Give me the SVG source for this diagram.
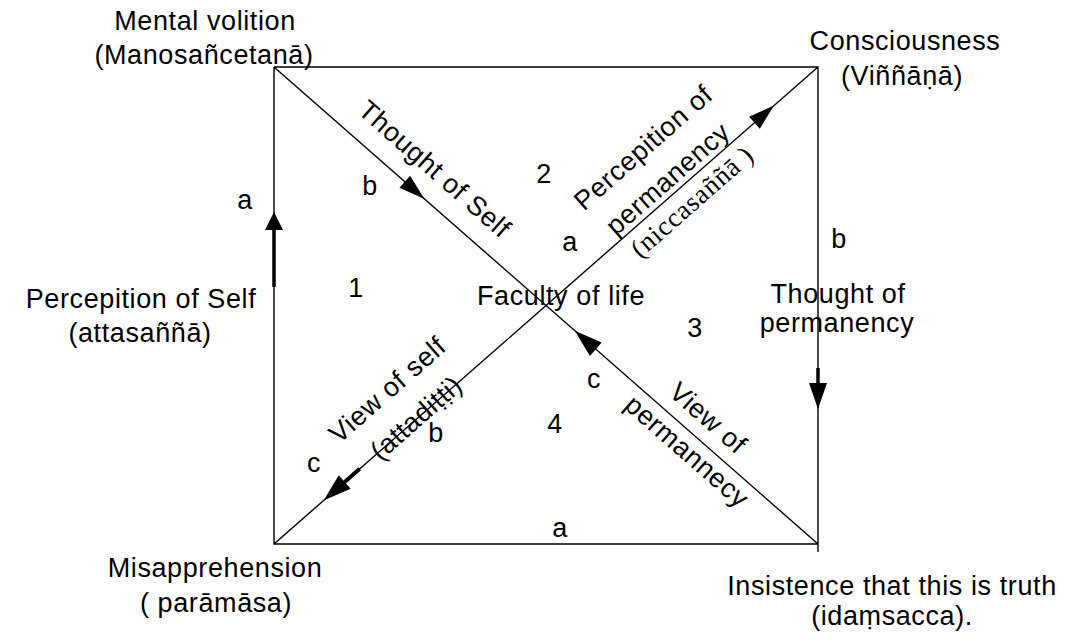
<svg xmlns="http://www.w3.org/2000/svg" width="1086" height="644" viewBox="0 0 1086 644">
<style>
.t{font-family:"Liberation Sans",Arial,sans-serif;font-size:27px;letter-spacing:0.6px;fill:#000;text-anchor:middle}
.s{font-family:"Liberation Serif","Times New Roman",serif;font-size:27px;letter-spacing:0.8px;fill:#000;text-anchor:middle}
.ln{stroke:#000;stroke-width:1.4;fill:none}
.thick{stroke:#000;stroke-width:3.5;fill:none}
.ah{fill:#000;stroke:none}
</style>
<rect width="1086" height="644" fill="#fff"/>
<g id="connectors">
<path class="ln" d="M274,67 H818 V552 M274,67 V544 H818 M274,67 L818,544 M274,544 L818,67"/>
<line class="thick" x1="274" y1="229" x2="274" y2="287"/>
<polygon class="ah" points="274,212 265,230 283,230"/>
<line class="thick" x1="818" y1="368" x2="818" y2="384"/>
<polygon class="ah" points="809,383 827,383 818,409"/>
<polygon class="ah" points="424.4,198.9 410.1,175.7 399.5,187.7"/>
<polygon class="ah" points="574.8,330.7 601.7,342.4 589.9,356.0"/>
<polygon class="ah" points="774.0,105.6 759.8,128.7 749.2,116.7"/>
<line stroke="#000" stroke-width="4" x1="344.7" y1="482.0" x2="359.7" y2="468.8"/>
<polygon class="ah" points="323.6,500.5 350.6,488.8 338.8,475.2"/>
</g>
<g id="node-mental-volition">
<text class="t" x="205" y="30">Mental volition</text>
<text class="t" x="204" y="64">(Manosañcetanā)</text>
</g>
<g id="node-consciousness">
<text class="t" x="905" y="50">Consciousness</text>
<text class="t" x="902" y="85">(Viññāṇā)</text>
</g>
<g id="node-misapprehension">
<text class="t" x="215" y="577">Misapprehension</text>
<text class="t" x="216" y="612">( parāmāsa)</text>
</g>
<g id="node-insistence">
<text class="t" x="892" y="595">Insistence that this is truth</text>
<text class="t" x="892" y="625">(idaṃsacca).</text>
</g>
<g id="node-faculty">
<text class="t" x="477" y="305" style="text-anchor:start">Faculty of life</text>
</g>
<g id="edge-labels">
<text class="t" x="141" y="308">Percepition of Self</text>
<text class="t" x="140" y="342">(attasaññā)</text>
<text class="t" x="838" y="303">Thought of</text>
<text class="t" x="837" y="332">permanency</text>
<text class="t" transform="translate(428.6,175.9) rotate(41.25)">Thought of Self</text>
<text class="t" transform="translate(702.2,424.9) rotate(41.25)">View of</text>
<text class="t" transform="translate(681,458.3) rotate(41.25)">permannecy</text>
<text class="t" transform="translate(649.3,154.5) rotate(-41.25)">Percepition of</text>
<text class="t" transform="translate(673.8,185.6) rotate(-41.25)">permanency</text>
<text class="s" transform="translate(697.9,208.4) rotate(-41.25)">(niccasaññā )</text>
<text class="t" transform="translate(393.5,396.7) rotate(-41.25)">View of self</text>
<text class="t" transform="translate(422.2,424.8) rotate(-41.25)">(attadiṭṭi)</text>
</g>
<g id="markers">
<text class="t" x="245" y="209">a</text>
<text class="t" x="370" y="195">b</text>
<text class="t" x="544" y="183">2</text>
<text class="t" x="570" y="251">a</text>
<text class="t" x="356" y="297">1</text>
<text class="t" x="839" y="248">b</text>
<text class="t" x="695" y="337">3</text>
<text class="t" x="594" y="388">c</text>
<text class="t" x="555" y="433">4</text>
<text class="t" x="436" y="442">b</text>
<text class="t" x="314" y="472">c</text>
<text class="t" x="560" y="537">a</text>
</g>
</svg>
